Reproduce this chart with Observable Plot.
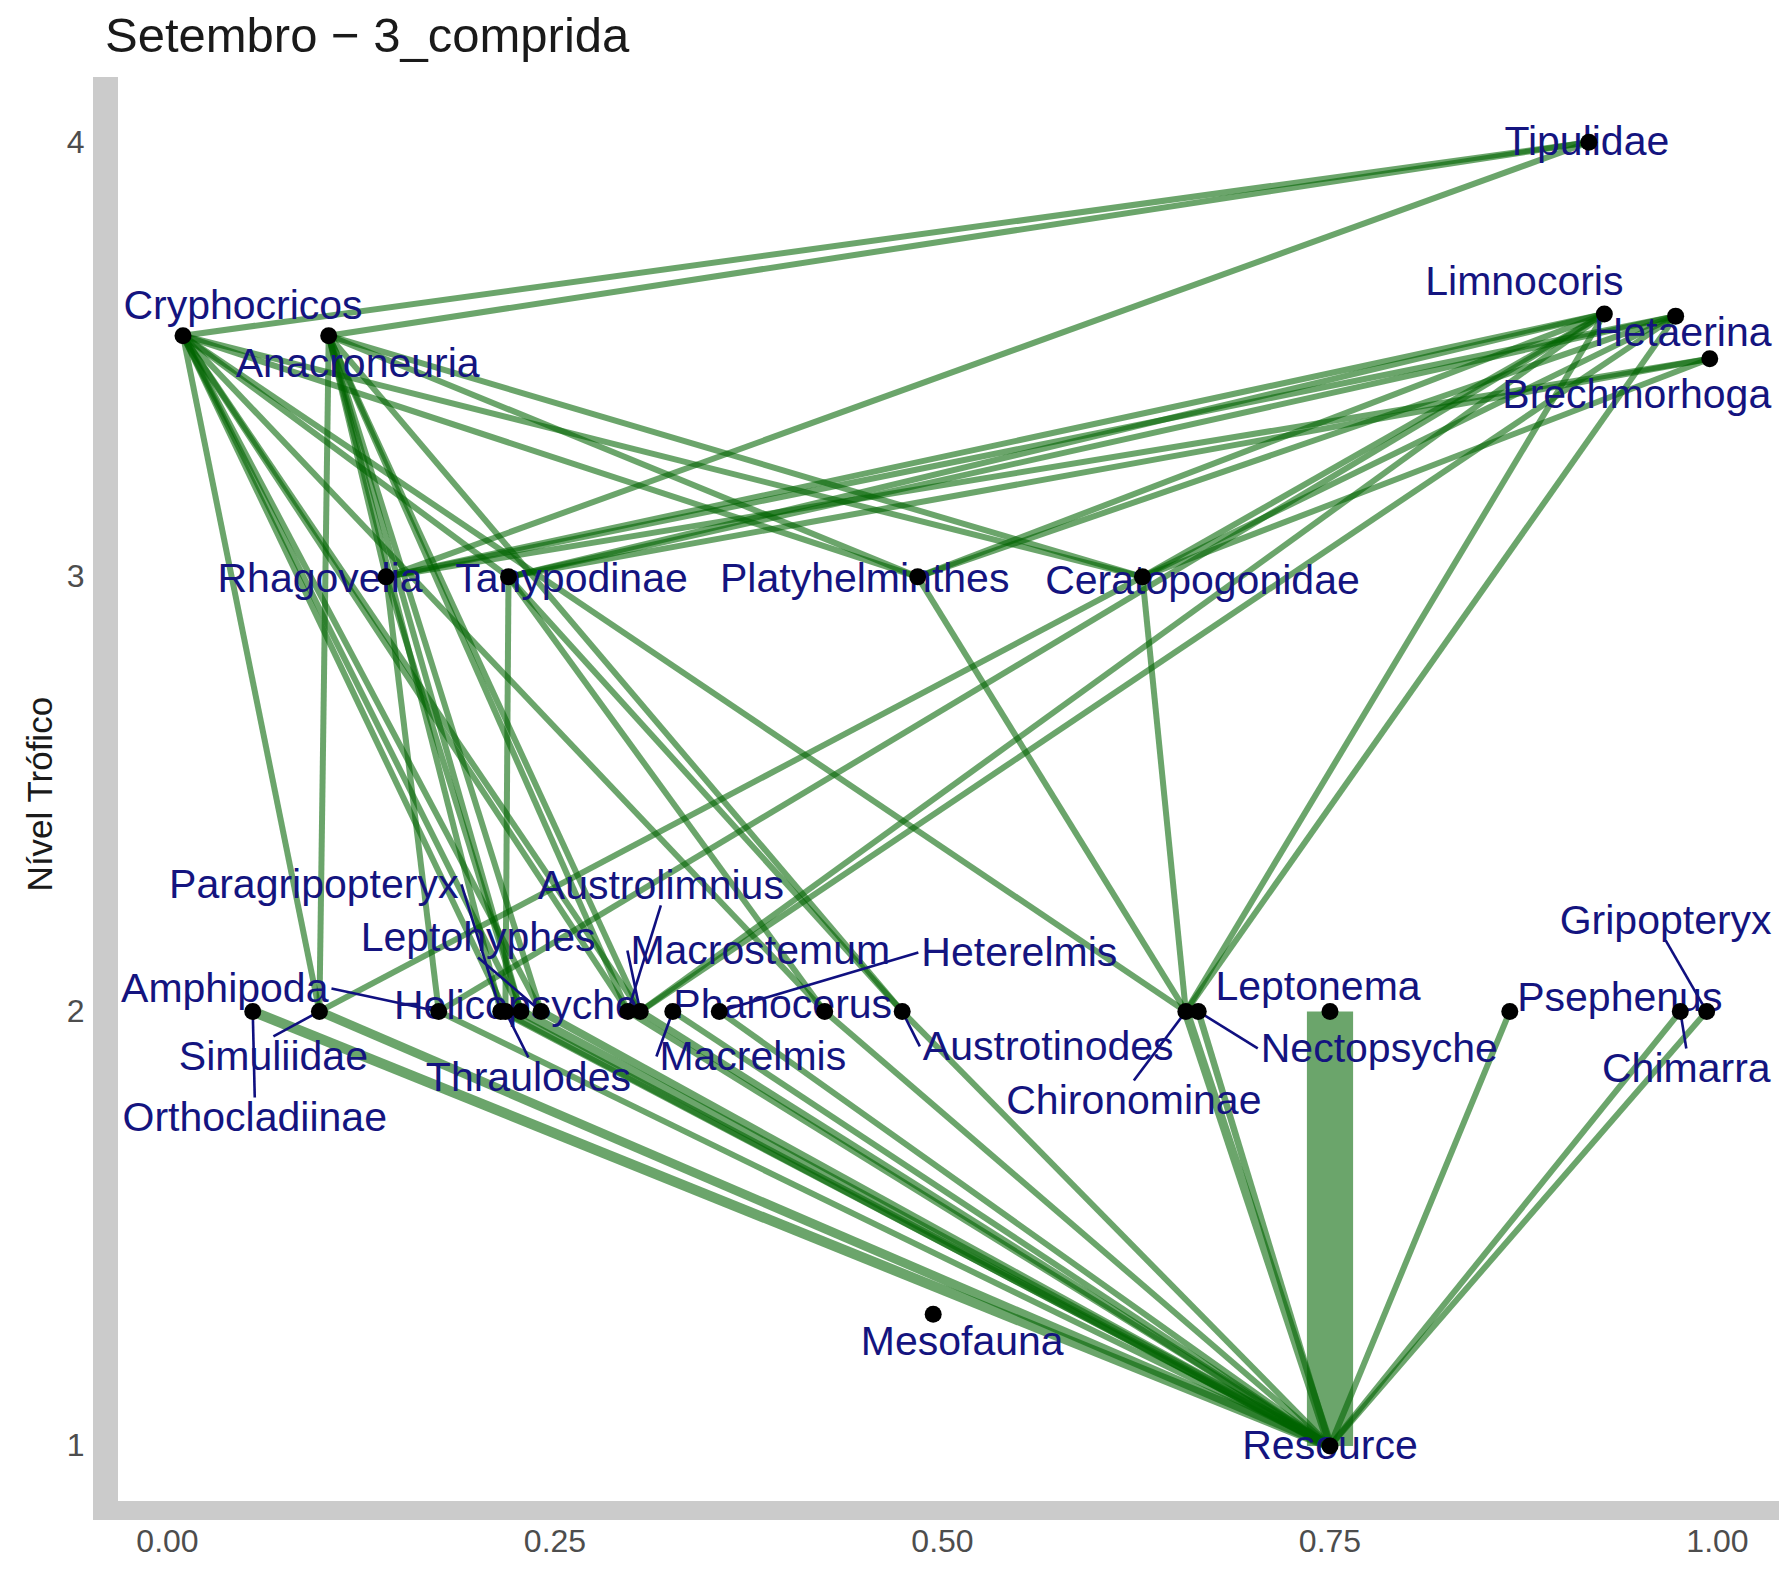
<!DOCTYPE html>
<html><head><meta charset="utf-8">
<script src="https://cdn.jsdelivr.net/npm/d3@7"></script>
<script src="https://cdn.jsdelivr.net/npm/@observablehq/plot@0.6"></script>
<style>
body{margin:0;background:#fff;}
#wrap{position:relative;width:1779px;height:1573px;overflow:hidden;}
#wrap svg{position:absolute;left:0;top:0;}
#title{position:absolute;left:105px;top:7px;font-family:"Liberation Sans",Arial,sans-serif;font-size:49px;color:#1a1a1a;white-space:nowrap;}
</style></head><body>
<div id="wrap"><div id="title">Setembro − 3_comprida</div></div>
<script>
// ---- data ----
const nodeNames = ["Tipulidae","Cryphocricos","Anacroneuria","Limnocoris","Hetaerina","Brechmorhoga",
  "Rhagovelia","Tanypodinae","Platyhelminthes","Ceratopogonidae",
  "Orthocladiinae","Simuliidae","Amphipoda","Paragripopteryx","Thraulodes","Helicopsyche","Leptohyphes",
  "Austrolimnius","Macrostemum","Macrelmis","Heterelmis","Phanocerus","Austrotinodes",
  "Chironominae","Nectopsyche","Leptonema","Psephenus","Chimarra","Gripopteryx","Mesofauna","Resource"];
const nodeX = [0.917,0.010,0.104,0.927,0.973,0.995,
  0.141,0.220,0.484,0.629,
  0.055,0.098,0.175,0.215,0.218,0.228,0.241,
  0.297,0.305,0.326,0.356,0.424,0.474,
  0.657,0.665,0.750,0.866,0.976,0.993,0.494,0.750];
const nodeY = [4.00,3.555,3.555,3.605,3.600,3.502,
  3,3,3,3,
  2,2,2,2,2,2,2,
  2,2,2,2,2,2,
  2,2,2,2,2,2,1.303,1];

const edgeFrom = [
  "Resource","Resource","Resource","Resource","Resource","Resource","Resource","Resource","Resource","Resource",
  "Resource","Resource","Resource","Resource","Resource","Resource","Resource","Resource","Resource",
  "Cryphocricos","Anacroneuria","Rhagovelia",
  "Ceratopogonidae","Platyhelminthes","Simuliidae","Helicopsyche","Austrolimnius","Phanocerus","Tanypodinae","Leptohyphes","Thraulodes","Macrostemum","Chironominae",
  "Ceratopogonidae","Platyhelminthes","Simuliidae","Paragripopteryx","Helicopsyche","Austrolimnius","Macrostemum","Austrotinodes","Rhagovelia","Leptohyphes",
  "Rhagovelia","Tanypodinae","Platyhelminthes","Ceratopogonidae","Chironominae","Macrostemum","Amphipoda",
  "Rhagovelia","Tanypodinae","Platyhelminthes","Ceratopogonidae","Chironominae","Macrostemum",
  "Tanypodinae","Ceratopogonidae","Rhagovelia",
  "Amphipoda","Helicopsyche",
  "Thraulodes","Phanocerus","Austrotinodes",
  "Chironominae",
  "Chironominae","Simuliidae"];
const edgeTo = [
  "Orthocladiinae","Simuliidae","Amphipoda","Paragripopteryx","Thraulodes","Helicopsyche","Leptohyphes","Austrolimnius","Macrostemum","Macrelmis",
  "Heterelmis","Phanocerus","Austrotinodes","Chironominae","Nectopsyche","Leptonema","Psephenus","Chimarra","Gripopteryx",
  "Tipulidae","Tipulidae","Tipulidae",
  "Cryphocricos","Cryphocricos","Cryphocricos","Cryphocricos","Cryphocricos","Cryphocricos","Cryphocricos","Cryphocricos","Cryphocricos","Cryphocricos","Cryphocricos",
  "Anacroneuria","Anacroneuria","Anacroneuria","Anacroneuria","Anacroneuria","Anacroneuria","Anacroneuria","Anacroneuria","Anacroneuria","Anacroneuria",
  "Limnocoris","Limnocoris","Limnocoris","Limnocoris","Limnocoris","Limnocoris","Limnocoris",
  "Hetaerina","Hetaerina","Hetaerina","Hetaerina","Hetaerina","Hetaerina",
  "Brechmorhoga","Brechmorhoga","Brechmorhoga",
  "Rhagovelia","Rhagovelia",
  "Tanypodinae","Tanypodinae","Tanypodinae",
  "Platyhelminthes",
  "Ceratopogonidae","Ceratopogonidae"];
const edgeWeight = [
  1.7,1.5,1,1,1.3,1.6,1.3,1,1.2,1,
  1,1,1,1.5,1.1,7.7,1,1,1,
  1,1,1,
  1,1,1,1,1,1,1,1,1,1,1,
  1,1,1,1,1,1,1,1,1,1,
  1,1,1,1,1,1,1,
  1,1,1,1,1,1,
  1,1,1,
  1,1,
  1,1,1,
  1,
  1,1];

const xTicks = [0, 0.25, 0.5, 0.75, 1];
const yTicks = [1, 2, 3, 4];
const yLabel = "Nível Trófico";

// ---- layout (pixels) ----
const W = 1779, H = 1573;
const mL = 167, mR = 62, mT = 141.8, mB = 127.5;
const kx = (W - mL - mR) / 1;      // px per x unit
const ky = (H - mT - mB) / 3;      // px per y unit
const labelFont = 41;
// label offsets from node, px (repelled label placement)
const labelOffset = {
  Tipulidae:[-2,0], Cryphocricos:[60,-30], Anacroneuria:[29,28], Limnocoris:[-80,-32], Hetaerina:[7,17],
  Brechmorhoga:[-73,36], Rhagovelia:[-66,2], Tanypodinae:[63,2], Platyhelminthes:[-53,2], Ceratopogonidae:[60,4],
  Paragripopteryx:[-187,-127], Austrolimnius:[33,-126], Leptohyphes:[-63,-74], Macrostemum:[120,-61],
  Heterelmis:[300,-59], Amphipoda:[-214,-23], Helicopsyche:[-5,-6], Phanocerus:[-42,-7], Leptonema:[-12,-25],
  Psephenus:[110,-14], Gripopteryx:[-41,-91], Simuliidae:[-46,45], Orthocladiinae:[2,106], Thraulodes:[23,66],
  Macrelmis:[80,45], Austrotinodes:[146,35], Nectopsyche:[181,37], Chironominae:[-52,89], Chimarra:[6,57],
  Mesofauna:[29,28], Resource:[0,0]
};

// ---- build tables ----
const nodes = nodeNames.map((n, i) => ({name: n, x: nodeX[i], y: nodeY[i]}));
const byName = new Map(nodes.map(d => [d.name, d]));
const edges = edgeFrom.map((f, i) => ({a: byName.get(f), b: byName.get(edgeTo[i]), w: edgeWeight[i]}));

const ctx = document.createElement("canvas").getContext("2d");
ctx.font = `${labelFont}px "Liberation Sans"`;
const labels = nodes.map(d => {
  const [dx, dy] = labelOffset[d.name] || [0, 0];
  const px = mL + d.x * kx, py = H - mB - (d.y - 1) * ky;
  const cx = px + dx, cy = py + dy;
  const hw = ctx.measureText(d.name).width / 2 + 3, hh = 20;
  const qx = Math.max(cx - hw, Math.min(cx + hw, px));
  const qy = Math.max(cy - hh, Math.min(cy + hh, py));
  const dist = Math.hypot(qx - px, qy - py);
  // leader starts at the nearest edge midpoint of the label box
  const cands = [[cx - hw, cy], [cx + hw, cy], [cx, cy - hh], [cx, cy + hh]];
  let best = cands[0], bd = Infinity;
  for (const c of cands) { const dd = Math.hypot(c[0] - px, c[1] - py); if (dd < bd) { bd = dd; best = c; } }
  return {name: d.name, nx: d.x, ny: d.y,
    lx: (cx - mL) / kx, ly: 1 + (H - mB - cy) / ky,
    sx: (best[0] - mL) / kx, sy: 1 + (H - mB - best[1]) / ky, lead: dist > 20};
});
const leaders = labels.filter(d => d.lead);

const toX = p => (p - mL) / kx, toY = p => 1 + (H - mB - p) / ky;

const chart = Plot.plot({
  width: W, height: H,
  marginLeft: mL, marginRight: mR, marginTop: mT, marginBottom: mB,
  x: {domain: [0, 1]},
  y: {domain: [1, 4]},
  style: {fontFamily: "Liberation Sans, Arial, sans-serif", background: "white", overflow: "visible"},
  marks: [
    Plot.rect([0], {x1: toX(93), x2: toX(118), y1: toY(1520), y2: toY(77), fill: "#cbcbcb"}),
    Plot.rect([0], {x1: toX(104), x2: toX(1779), y1: toY(1520), y2: toY(1501), fill: "#cbcbcb"}),
    Plot.axisX({ticks: xTicks, tickFormat: d3.format(".2f"), tickSize: 0, tickPadding: 83, fontSize: 32, fill: "#4d4d4d", label: null}),
    Plot.axisY({ticks: yTicks, tickFormat: d => d, tickSize: 0, tickPadding: 83, fontSize: 32, fill: "#4d4d4d", label: null}),
    Plot.text([yLabel], {frameAnchor: "left", textAnchor: "middle", lineAnchor: "middle", text: d => d, rotate: -90, dx: -127, fontSize: 35, fill: "#1a1a1a"}),
    Plot.link(edges, {x1: d => d.a.x, y1: d => d.a.y, x2: d => d.b.x, y2: d => d.b.y,
      stroke: "#006400", strokeOpacity: 0.58, strokeWidth: d => 6 * d.w, strokeLinecap: "butt"}),
    Plot.link(leaders, {x1: "sx", y1: "sy", x2: "nx", y2: "ny", stroke: "#101080", strokeWidth: 2.6}),
    Plot.text(labels, {x: "lx", y: "ly", text: "name", fontSize: labelFont, fill: "#14147f"}),
    Plot.dot(nodes, {x: "x", y: "y", r: 8.5, fill: "black", stroke: "none"})
  ]
});
document.getElementById("wrap").prepend(chart);
</script>
</body></html>
